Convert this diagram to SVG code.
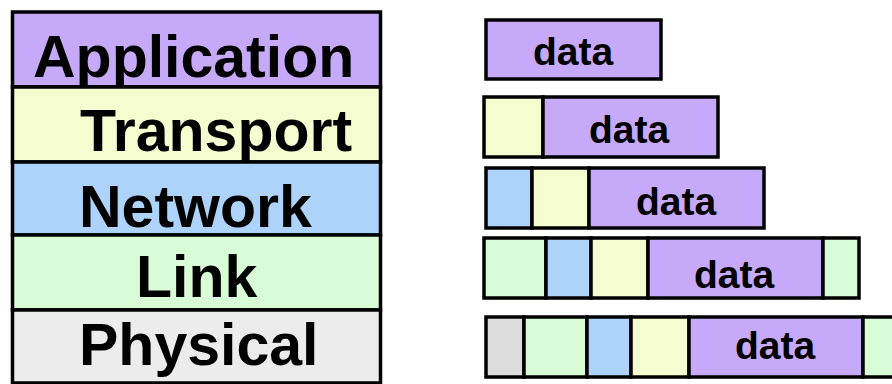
<svg xmlns="http://www.w3.org/2000/svg" width="892" height="384" viewBox="0 0 892 384">
<style>
rect{stroke:#000;stroke-width:3.5}
.app{fill:#c6aaf9}.tr{fill:#f5fdd0}.nw{fill:#aed3fb}.lk{fill:#d7fcd6}.ph{fill:#ececec}.phh{fill:#dcdcdc}
.big{font-family:"Liberation Sans",Arial,sans-serif;font-weight:bold;font-size:59px;fill:#000}
.d{font-family:"Liberation Sans",Arial,sans-serif;font-weight:bold;font-size:39px;fill:#000;text-anchor:middle}
</style>
<rect width="892" height="384" fill="#fff" style="stroke:none"/>
<g id="layer-application"><rect class="app" x="12.5" y="12" width="368" height="75"/><text class="big" x="33" y="77">Application</text></g>
<g id="layer-transport"><rect class="tr" x="12.5" y="87" width="368" height="75"/><text class="big" x="80" y="151">Transport</text></g>
<g id="layer-network"><rect class="nw" x="12.5" y="162" width="368" height="73"/><text class="big" x="79" y="227">Network</text></g>
<g id="layer-link"><rect class="lk" x="12.5" y="235" width="368" height="75"/><text class="big" x="136" y="297">Link</text></g>
<g id="layer-physical"><rect class="ph" x="12.5" y="310" width="368" height="73"/><text class="big" x="79" y="365">Physical</text></g>

<g id="pkt-application"><rect class="app" x="486" y="20" width="175" height="59"/><text class="d" x="573" y="65">data</text></g>
<g id="pkt-transport"><rect class="tr" x="484" y="97" width="59" height="60"/><rect class="app" x="543" y="97" width="175" height="60"/><text class="d" x="629" y="143">data</text></g>
<g id="pkt-network"><rect class="nw" x="486" y="168" width="46" height="60"/><rect class="tr" x="532" y="168" width="57" height="60"/><rect class="app" x="589" y="168" width="175" height="60"/><text class="d" x="676" y="215">data</text></g>
<g id="pkt-link"><rect class="lk" x="484" y="238" width="62" height="60"/><rect class="nw" x="546" y="238" width="45" height="60"/><rect class="tr" x="591" y="238" width="57" height="60"/><rect class="app" x="648" y="238" width="175" height="60"/><rect class="lk" x="823" y="238" width="36" height="60"/><text class="d" x="734" y="288">data</text></g>
<g id="pkt-physical"><rect class="phh" x="486" y="317" width="38" height="60"/><rect class="lk" x="524" y="317" width="63" height="60"/><rect class="nw" x="587" y="317" width="44" height="60"/><rect class="tr" x="631" y="317" width="58" height="60"/><rect class="app" x="689" y="317" width="174" height="60"/><rect class="lk" x="863" y="317" width="40" height="60"/><text class="d" x="775" y="359">data</text></g>
<g id="connectors"/>
</svg>
